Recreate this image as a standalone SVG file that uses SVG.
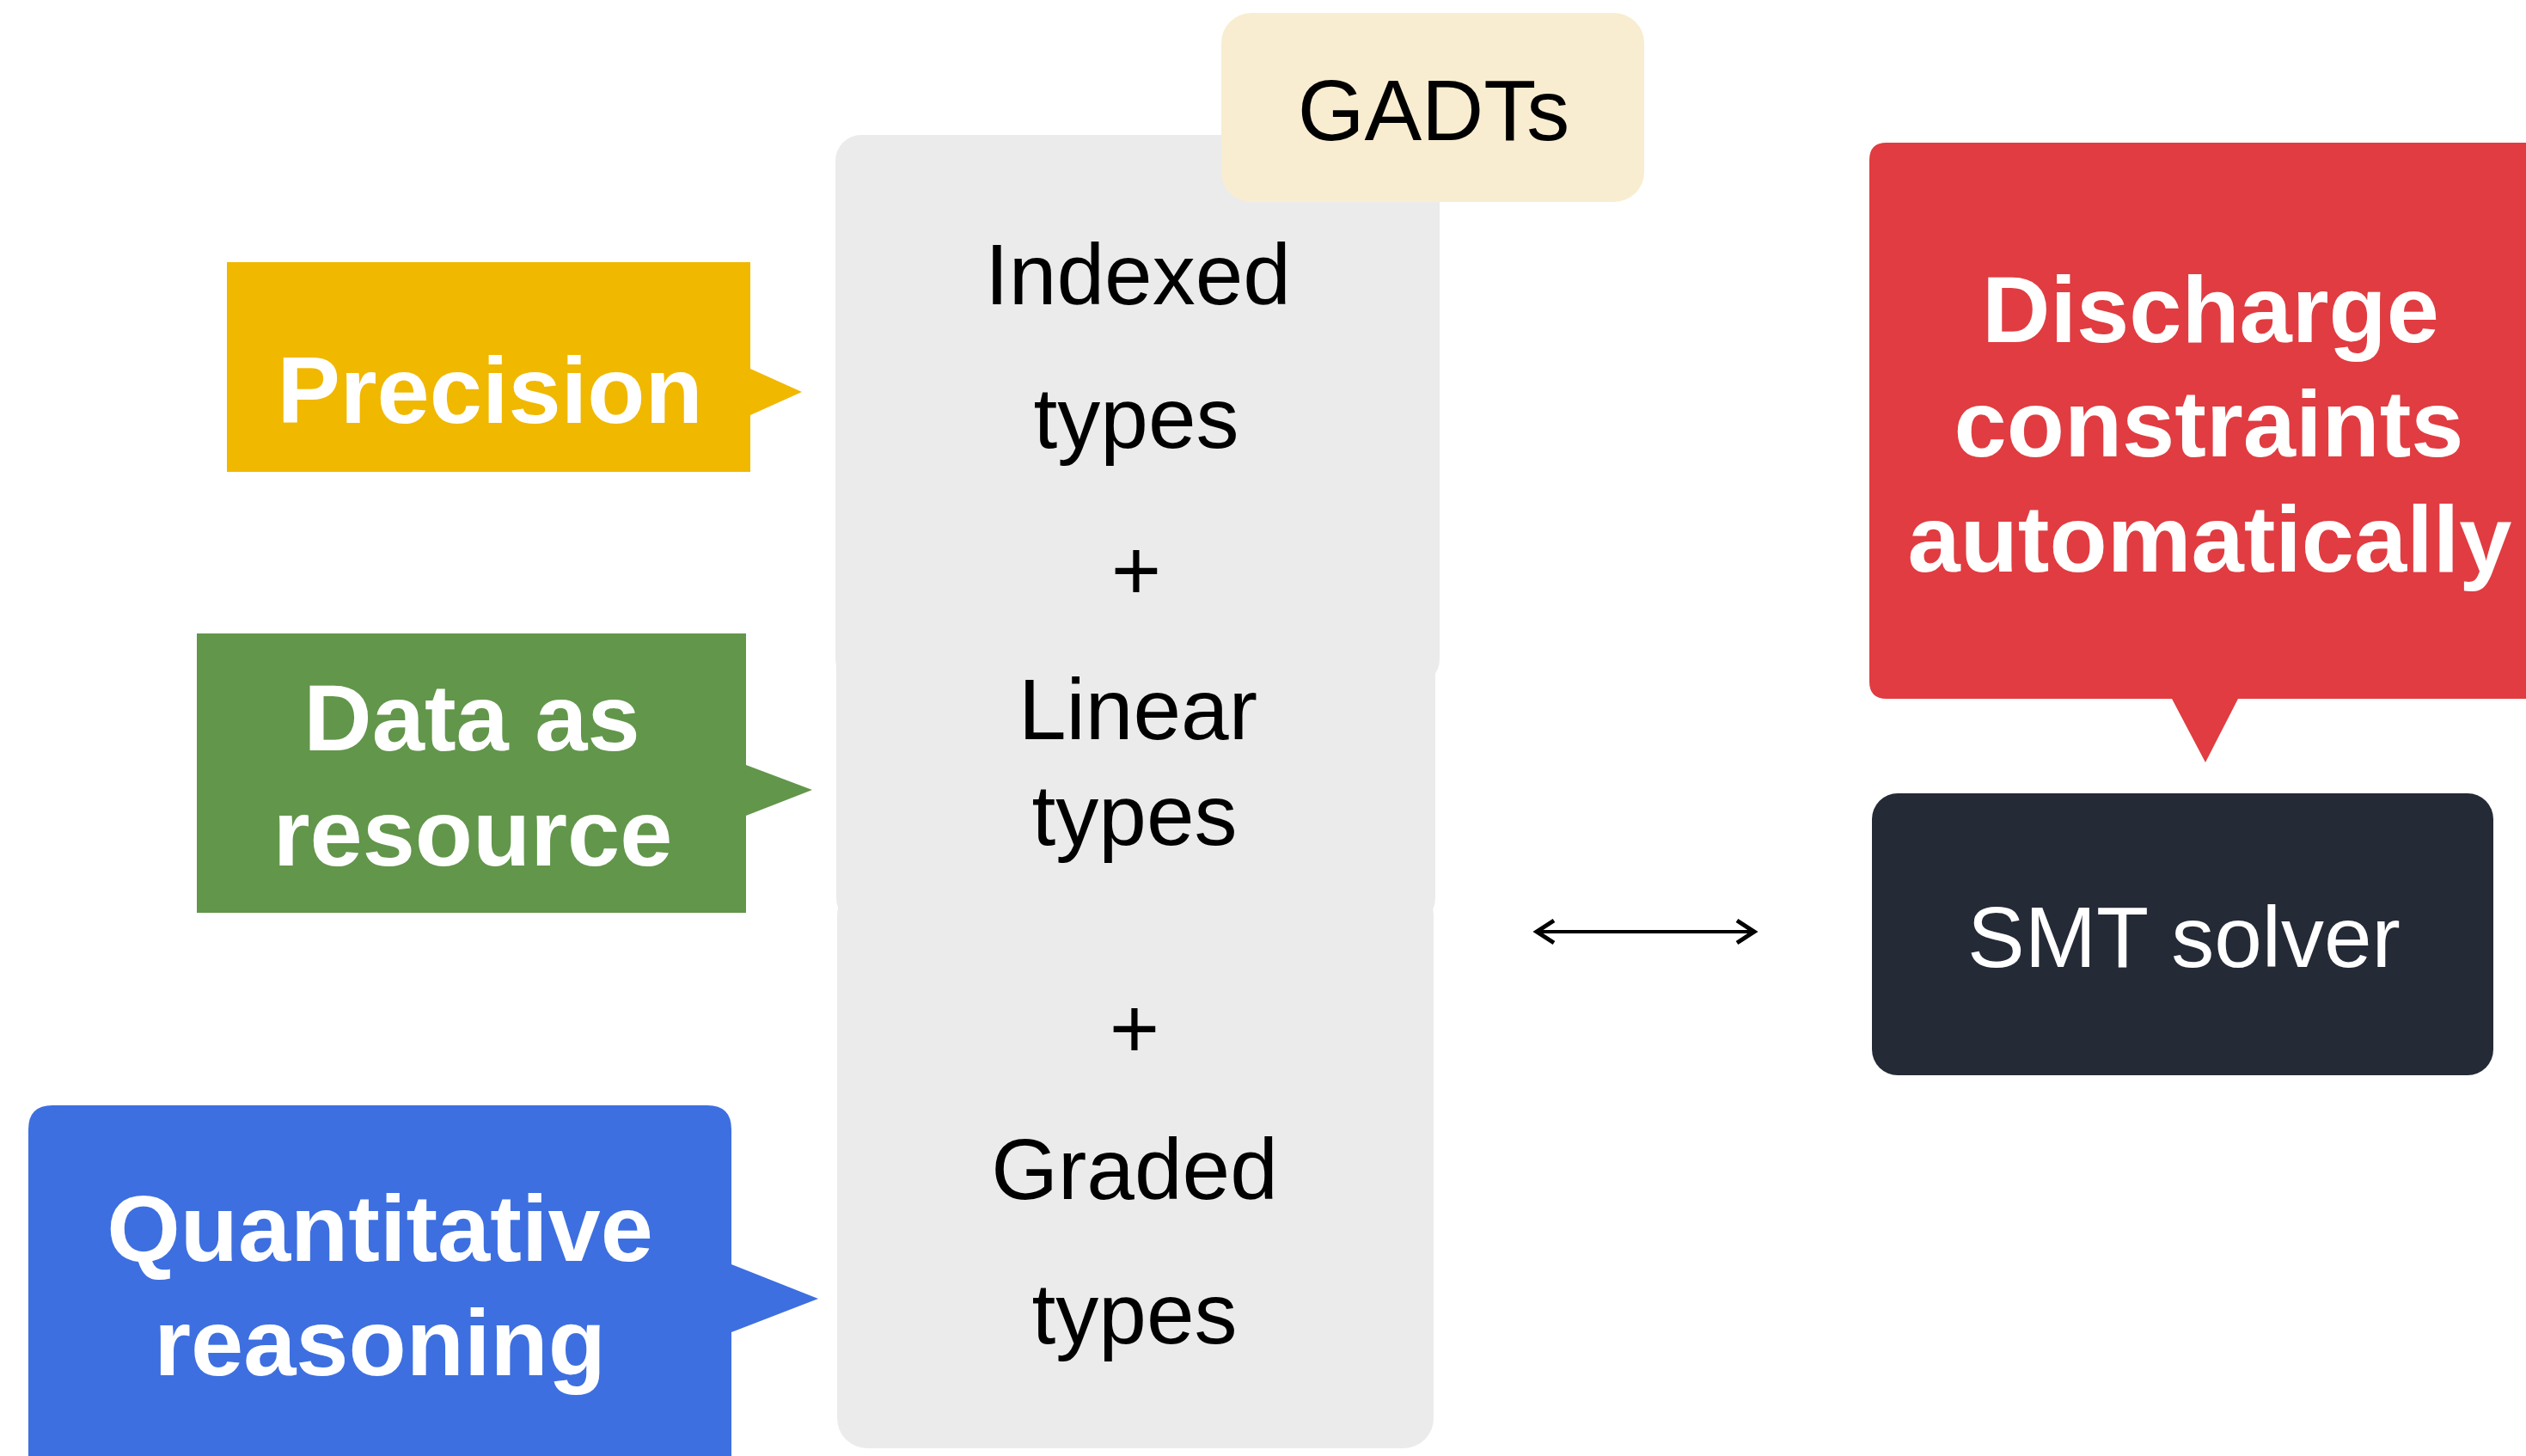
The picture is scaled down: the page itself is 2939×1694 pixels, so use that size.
<svg xmlns="http://www.w3.org/2000/svg" width="2939" height="1694" viewBox="0 0 2939 1694">
<style>
.gray{fill:#EBEBEB}
.t{font-family:"Liberation Sans",Arial,Helvetica,sans-serif;font-size:100px;fill:#000;text-anchor:middle}
.b{font-family:"Liberation Sans",Arial,Helvetica,sans-serif;font-size:110px;font-weight:bold;fill:#fff;text-anchor:middle}
.w{font-family:"Liberation Sans",Arial,Helvetica,sans-serif;font-size:100px;fill:#fff;text-anchor:middle}
.conn{stroke:#000;stroke-width:4;fill:none}
.head{stroke:#000;stroke-width:5;fill:none}
</style>
<rect width="2939" height="1694" fill="#fff"/>
<g id="types-stack">
<rect class="gray" x="974" y="1030" width="694" height="655" rx="35"/>
<rect class="gray" x="973" y="700" width="697" height="375" rx="30"/>
<rect class="gray" x="972" y="157" width="703" height="640" rx="30"/>
<text class="t" x="1324" y="354">Indexed</text>
<text class="t" x="1322" y="521">types</text>
<text class="t" x="1322" y="698">+</text>
<text class="t" x="1324" y="860">Linear</text>
<text class="t" x="1320" y="983">types</text>
<text class="t" x="1320" y="1231">+</text>
<text class="t" x="1320" y="1395">Graded</text>
<text class="t" x="1320" y="1563">types</text>
</g>
<g id="gadts">
<rect x="1421" y="15" width="492" height="220" rx="35" fill="#F8EDD0"/>
<text class="t" x="1668" y="163">GADTs</text>
</g>
<g id="precision">
<path d="M264,305 H873 V429 L933,456 L873,483 V549 H264 Z" fill="#F1B800"/>
<text class="b" x="570" y="492">Precision</text>
</g>
<g id="data-as-resource">
<path d="M229,737 H868 V890 L945,919 L868,949 V1062 H229 Z" fill="#62964B"/>
<text class="b" x="549" y="873">Data as</text>
<text class="b" x="550" y="1007">resource</text>
</g>
<g id="quantitative">
<path d="M33,1314 Q33,1286 61,1286 H823 Q851,1286 851,1314 V1471 L952,1511 L851,1550 V1694 H33 Z" fill="#3D6FE0"/>
<text class="b" x="442" y="1467">Quantitative</text>
<text class="b" x="442" y="1600">reasoning</text>
</g>
<g id="discharge">
<path d="M2195,166 H2939 V813 H2604 L2566,887 L2527,813 H2195 Q2175,813 2175,793 V186 Q2175,166 2195,166 Z" fill="#E03C41"/>
<text class="b" x="2572" y="398">Discharge</text>
<text class="b" x="2570" y="531">constraints</text>
<text class="b" x="2571" y="665">automatically</text>
</g>
<g id="smt">
<rect x="2178" y="923" width="723" height="328" rx="30" fill="#242A36"/>
<text class="w" x="2541" y="1125">SMT solver</text>
</g>
<g id="connectors">
<line class="conn" x1="1787" y1="1084" x2="2042" y2="1084"/>
<polyline class="head" points="1808,1071 1788,1084 1808,1097"/>
<polyline class="head" points="2021,1071 2041,1084 2021,1097"/>
</g>
</svg>
